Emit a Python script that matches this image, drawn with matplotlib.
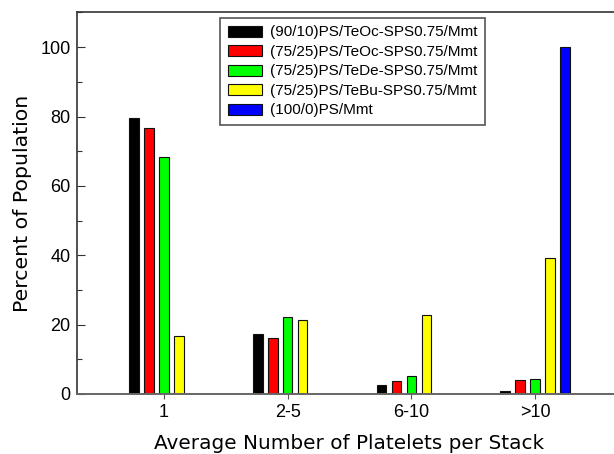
import numpy as np
import matplotlib
matplotlib.use("Agg")
import matplotlib.pyplot as plt
from matplotlib.ticker import MultipleLocator

# Platelet stacking distribution per composite
categories = ["1", "2-5", "6-10", ">10"]
series_labels = [
    "(90/10)PS/TeOc-SPS0.75/Mmt",
    "(75/25)PS/TeOc-SPS0.75/Mmt",
    "(75/25)PS/TeDe-SPS0.75/Mmt",
    "(75/25)PS/TeBu-SPS0.75/Mmt",
    "(100/0)PS/Mmt",
]
teoc_90_10 = [79.5, 17.3, 2.7, 1.0]
teoc_75_25 = [76.6, 16.0, 3.6, 4.0]
tede_75_25 = [68.4, 22.3, 5.3, 4.3]
tebu_75_25 = [16.7, 21.3, 22.9, 39.3]
ps_mmt = [0.0, 0.0, 0.0, 100.0]
series_values = [teoc_90_10, teoc_75_25, tede_75_25, tebu_75_25, ps_mmt]
series_colors = ["#000000", "#ff0000", "#00ff00", "#ffff00", "#0000ff"]

fig = plt.figure(figsize=(6.14, 4.54), dpi=100)
ax = fig.add_axes([0.1262, 0.1322, 0.8862, 0.8403])

x = np.arange(len(categories))
step = 0.121
width = 0.077
for j, (vals, col, lab) in enumerate(zip(series_values, series_colors, series_labels)):
    ax.bar(x + (j - 2) * step, vals, width=width, color=col,
           edgecolor="#111111", linewidth=0.8, label=lab, zorder=2)

ax.set_xlim(-0.7, 3.7)
ax.set_ylim(0, 110)
ax.set_xticks(x)
ax.set_xticklabels(categories, family="Liberation Sans", fontsize=13)
ax.yaxis.set_major_locator(MultipleLocator(20))
ax.yaxis.set_minor_locator(MultipleLocator(10))
ax.set_yticks([0, 20, 40, 60, 80, 100])
for lbl in ax.get_yticklabels():
    lbl.set_family("Liberation Sans")
    lbl.set_fontsize(13)

ax.tick_params(axis="y", which="major", direction="in", length=6, width=0.8,
               right=True, pad=5, colors="#333333", labelcolor="black")
ax.tick_params(axis="y", which="minor", direction="in", length=3.5, width=0.8,
               right=True, colors="#333333")
ax.tick_params(axis="x", which="major", direction="out", length=3.5, width=0.8,
               pad=4, colors="#555555", labelcolor="black")

for side in ["left", "right", "top"]:
    ax.spines[side].set_color("#333333")
    ax.spines[side].set_linewidth(1.2)
ax.spines["bottom"].set_color("#666666")
ax.spines["bottom"].set_linewidth(1.4)

ax.set_ylabel("Percent of Population", family="DejaVu Sans", fontsize=14.7, labelpad=6)
ax.set_xlabel("Average Number of Platelets per Stack", family="DejaVu Sans",
              fontsize=14.4, labelpad=9)

leg = ax.legend(loc="upper left", bbox_to_anchor=(0.262, 0.986),
                prop={"family": "Liberation Sans", "size": 11},
                frameon=True, fancybox=False, framealpha=1, edgecolor="#555555",
                borderpad=0.5, labelspacing=0.36, handlelength=2.25,
                handleheight=0.75, handletextpad=0.5, borderaxespad=0)
leg.get_frame().set_linewidth(1.2)

fig.savefig("out.png", dpi=100)
